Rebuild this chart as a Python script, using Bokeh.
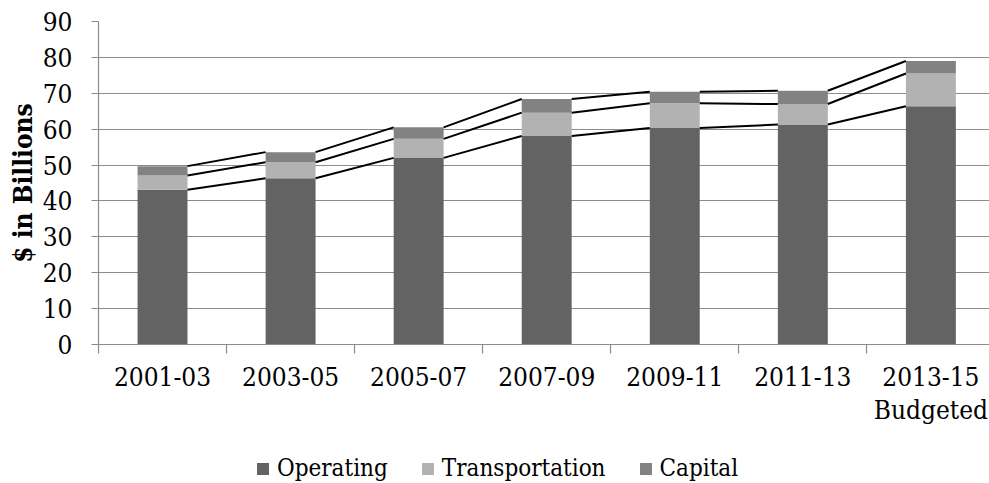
from bokeh.plotting import figure
from bokeh.layouts import column
from bokeh.models import Range1d, FixedTicker, Legend, LegendItem, ColumnDataSource
from bokeh.embed import file_html
from bokeh.resources import INLINE

periods = ["2001-03", "2003-05", "2005-07", "2007-09", "2009-11", "2011-13", "2013-15\nBudgeted"]
operating = [43.1, 46.3, 52.0, 58.1, 60.3, 61.3, 66.4]
transportation = [4.0, 4.5, 5.3, 6.5, 6.9, 5.7, 9.1]
capital = [2.6, 2.8, 3.2, 3.8, 3.2, 3.7, 3.5]
y_ticks = [0, 10, 20, 30, 40, 50, 60, 70, 80, 90]

series_names = ["Operating", "Transportation", "Capital"]
colors = ["#636363", "#b2b2b2", "#828282"]
FONT = "'DejaVu Serif Condensed', 'Liberation Serif', serif"
FS = "26px"
GRID = "#8c8c8c"

x = list(range(len(periods)))
c1 = operating
c2 = [a + b for a, b in zip(c1, transportation)]
c3 = [a + b for a, b in zip(c2, capital)]
bw = 0.39

src = ColumnDataSource(dict(x=x, b0=[0] * len(x), c1=c1, c2=c2, c3=c3))

W, H, LH = 989, 451, 32
LEFT, TOP, BOTTOM = 98, 21, 107
p = figure(width=W, height=H, output_backend="svg", toolbar_location=None,
           x_range=Range1d(-0.5, -0.5 + (W - LEFT) / 128.06), y_range=Range1d(0, 90),
           min_border_left=LEFT, min_border_right=0, min_border_top=TOP, min_border_bottom=BOTTOM)
p.outline_line_color = None
p.background_fill_color = "white"
p.border_fill_color = "white"

def stack(fig, source):
    a = fig.vbar(x="x", bottom="b0", top="c1", width=bw, source=source, fill_color=colors[0], line_color=None)
    b = fig.vbar(x="x", bottom="c1", top="c2", width=bw, source=source, fill_color=colors[1], line_color=None)
    c = fig.vbar(x="x", bottom="c2", top="c3", width=bw, source=source, fill_color=colors[2], line_color=None)
    return [a, b, c]

stack(p, src)

# series lines connecting segment tops
for tops in (c1, c2, c3):
    p.segment(x0=[i + bw / 2 for i in x[:-1]], y0=tops[:-1],
              x1=[i + 1 - bw / 2 for i in x[:-1]], y1=tops[1:],
              line_color="black", line_width=2)

p.xgrid.visible = False
p.ygrid.grid_line_color = GRID
p.ygrid.grid_line_width = 1.2
p.ygrid.ticker = FixedTicker(ticks=y_ticks)

xa = p.xaxis[0]
xa.ticker = FixedTicker(ticks=x, minor_ticks=[i - 0.5 for i in range(len(x) + 1)])
xa.major_label_overrides = {i: s for i, s in enumerate(periods)}
xa.major_tick_line_color = None
xa.major_tick_out = 0
xa.major_tick_in = 0
xa.minor_tick_line_color = GRID
xa.minor_tick_out = 9
xa.minor_tick_in = 0
xa.minor_tick_line_width = 1.2
xa.axis_line_color = GRID
xa.axis_line_width = 1.2
xa.major_label_standoff = 8
xa.major_label_text_font = FONT
xa.major_label_text_font_size = FS
xa.major_label_text_line_height = 1.1
xa.major_label_text_color = "black"

ya = p.yaxis[0]
ya.ticker = FixedTicker(ticks=y_ticks)
ya.major_tick_out = 7
ya.major_tick_in = 0
ya.minor_tick_line_color = None
ya.major_tick_line_color = GRID
ya.major_tick_line_width = 1.2
ya.axis_line_color = GRID
ya.axis_line_width = 1.2
ya.major_label_standoff = 19
ya.major_label_text_font = FONT
ya.major_label_text_font_size = FS
ya.major_label_text_color = "black"
ya.axis_label = "$ in Billions"
ya.axis_label_text_font = FONT
ya.axis_label_text_font_size = FS
ya.axis_label_text_font_style = "bold"
ya.axis_label_text_color = "black"
ya.axis_label_standoff = 2

# legend strip (its bars lie far outside this strip's view; only the legend shows)
p2 = figure(width=W, height=LH, output_backend="svg", toolbar_location=None,
            x_axis_type=None, y_axis_type=None, x_range=Range1d(-50, -49), y_range=Range1d(-50, -49),
            min_border=0)
p2.outline_line_color = None
p2.border_fill_color = "white"
p2.background_fill_color = "white"
lr = stack(p2, src)
legend = Legend(items=[LegendItem(label=n, renderers=[r]) for n, r in zip(series_names, lr)],
                orientation="horizontal", location=(157, 0),
                glyph_width=15, glyph_height=15, label_standoff=7, spacing=32,
                padding=0, margin=0, border_line_color=None, background_fill_alpha=0,
                label_text_font=FONT, label_text_font_size="24px", label_text_color="black",
                label_height=30)
p2.add_layout(legend, "center")

layout = column(p, p2, spacing=0)
open("out.html", "w").write(file_html(layout, INLINE))
